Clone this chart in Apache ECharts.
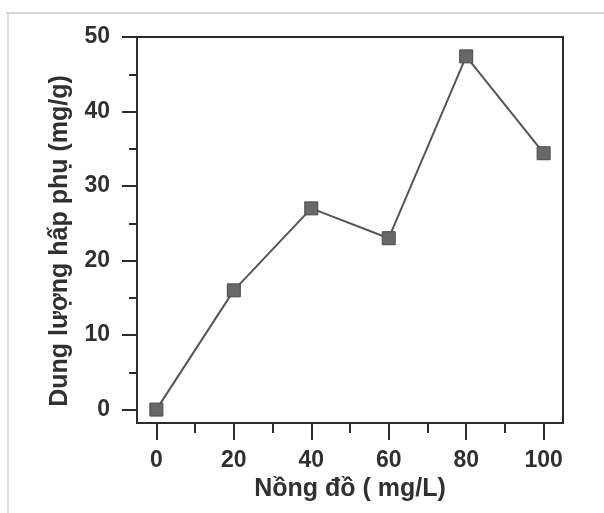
<!DOCTYPE html>
<html>
<head>
<meta charset="utf-8">
<script src="https://cdn.jsdelivr.net/npm/echarts@6/dist/echarts.min.js"></script>
<style>
  html, body { margin: 0; padding: 0; background: #fff; }
  #main { width: 604px; height: 513px; }
</style>
</head>
<body>
<div id="main"></div>
<script>
const concentration = [0, 20, 40, 60, 80, 100]
const capacity = [0, 16, 27, 23, 47.4, 34.4]
const xMajorTicks = [0, 20, 40, 60, 80, 100]
const xMinorTicks = [10, 30, 50, 70, 90]
const yMajorTicks = [0, 10, 20, 30, 40, 50]
const yMinorTicks = [5, 15, 25, 35, 45]

const ink = '#2b2b2b'
const font = 'Liberation Sans, Arial, sans-serif'

const labelStyle = {
  color: '#303030',
  fontFamily: font,
  fontWeight: 'bold',
  fontSize: 23
}

const chart = echarts.init(document.getElementById('main'), null, { renderer: 'canvas' })

const option = {
  backgroundColor: '#fff',
  animation: false,
  // light page edges from the scan
  graphic: [
    { type: 'line', shape: { x1: 6, y1: 13, x2: 604, y2: 13 }, style: { stroke: '#c9c9c9', lineWidth: 1.5 } },
    { type: 'line', shape: { x1: 8, y1: 13, x2: 8, y2: 513 }, style: { stroke: '#d2d2d2', lineWidth: 1.5 } }
  ],
  grid: {
    left: 137,
    right: 41,
    top: 37,
    bottom: 90,
    show: true,
    borderColor: ink,
    borderWidth: 2,
    backgroundColor: 'transparent'
  },
  xAxis: [
    {
      type: 'value',
      min: -5,
      max: 105,
      position: 'bottom',
      name: 'Nồng đồ ( mg/L)',
      nameLocation: 'middle',
      nameGap: 51,
      nameTextStyle: { color: '#303030', fontFamily: font, fontWeight: 'bold', fontSize: 25 },
      axisLine: { show: true, onZero: false, lineStyle: { color: ink, width: 2 } },
      axisTick: { show: true, customValues: xMajorTicks, length: 17, lineStyle: { color: ink, width: 2 } },
      axisLabel: { customValues: xMajorTicks, margin: 26, ...labelStyle },
      splitLine: { show: false }
    },
    {
      type: 'value',
      min: -5,
      max: 105,
      position: 'bottom',
      axisLine: { show: false, onZero: false },
      axisTick: { show: true, customValues: xMinorTicks, length: 10, lineStyle: { color: ink, width: 2 } },
      axisLabel: { show: false },
      splitLine: { show: false }
    }
  ],
  yAxis: [
    {
      type: 'value',
      min: -1.8,
      max: 50,
      position: 'left',
      name: 'Dung lượng hấp phụ (mg/g)',
      nameLocation: 'middle',
      nameGap: 64,
      nameTextStyle: { color: '#303030', fontFamily: font, fontWeight: 'bold', fontSize: 25, padding: [0, 22, 0, 0] },
      axisLine: { show: true, onZero: false, lineStyle: { color: ink, width: 2 } },
      axisTick: { show: true, customValues: yMajorTicks, length: 15, lineStyle: { color: ink, width: 2 } },
      axisLabel: { customValues: yMajorTicks, margin: 27, ...labelStyle },
      splitLine: { show: false }
    },
    {
      type: 'value',
      min: -1.8,
      max: 50,
      position: 'left',
      axisLine: { show: false, onZero: false },
      axisTick: { show: true, customValues: yMinorTicks, length: 8, lineStyle: { color: ink, width: 2 } },
      axisLabel: { show: false },
      splitLine: { show: false }
    }
  ],
  series: [
    {
      type: 'line',
      xAxisIndex: 0,
      yAxisIndex: 0,
      data: concentration.map((c, i) => [c, capacity[i]]),
      symbol: 'rect',
      symbolSize: 13,
      lineStyle: { color: '#555', width: 2 },
      itemStyle: { color: '#686868', borderColor: '#4a4a4a', borderWidth: 1 }
    }
  ]
}

chart.setOption(option)
</script>
</body>
</html>
